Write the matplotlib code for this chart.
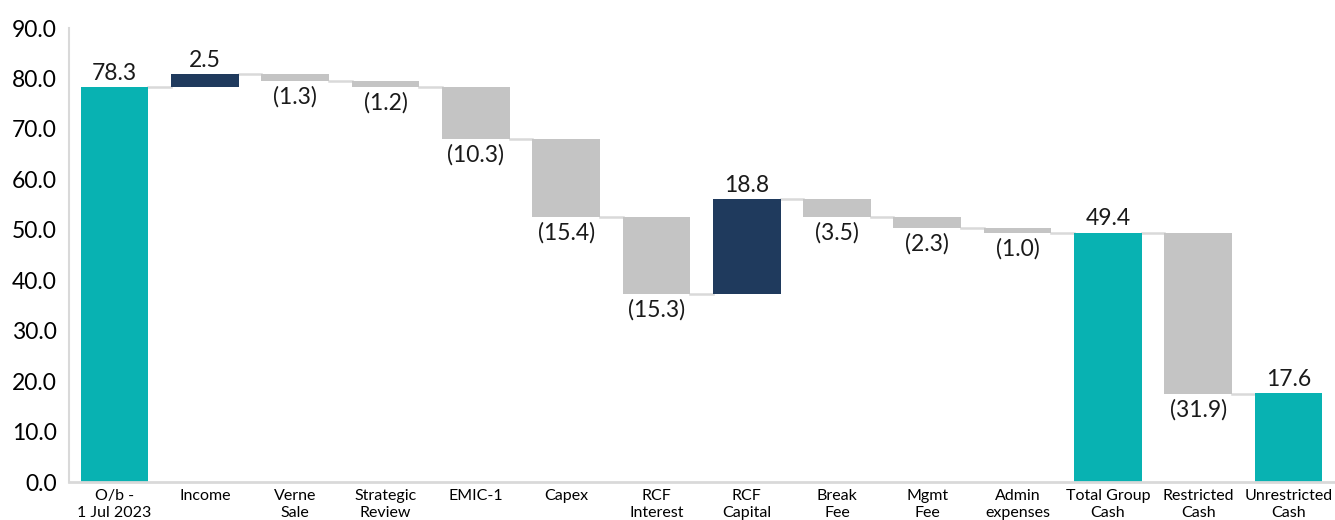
import matplotlib.pyplot as plt
import numpy as np

plt.rcParams['font.family'] = ['Lato', 'DejaVu Sans']

labels = ["O/b -\n1 Jul 2023", "Income", "Verne\nSale", "Strategic\nReview", "EMIC-1",
          "Capex", "RCF\nInterest", "RCF\nCapital", "Break\nFee", "Mgmt\nFee",
          "Admin\nexpenses", "Total Group\nCash", "Restricted\nCash", "Unrestricted\nCash"]
values = [78.3, 2.5, -1.3, -1.2, -10.3, -15.4, -15.3, 18.8, -3.5, -2.3, -1.0, 49.4, -31.9, 17.6]
is_total = [True, False, False, False, False, False, False, False, False, False, False, True, False, True]

TEAL = "#08B2B2"
NAVY = "#1F3A5D"
GREY = "#C4C4C4"
LINE = "#D9D9D9"

fig = plt.figure(figsize=(13.35, 5.2), dpi=100)
ax = fig.add_axes([0.052, 0.073, 0.947, 0.873])

x = np.arange(len(values))
w = 0.75
bottoms, tops = [], []
running = 0.0
for i, v in enumerate(values):
    if is_total[i]:
        b, t = 0.0, v
        running = v
    else:
        b = running if v > 0 else running + v
        t = running + v if v > 0 else running
        running = running + v
    bottoms.append(b)
    tops.append(t)

for i, v in enumerate(values):
    if is_total[i]:
        c = TEAL
    elif v > 0:
        c = NAVY
    else:
        c = GREY
    ax.bar(x[i], tops[i] - bottoms[i], bottom=bottoms[i], width=w, color=c, zorder=2)
    if v >= 0:
        ax.text(x[i], tops[i] + 0.7, f"{v:.1f}", ha="center", va="bottom", fontsize=16.5, color="#1a1a1a")
    else:
        ax.text(x[i], bottoms[i] - 1.0, f"({abs(v):.1f})", ha="center", va="top", fontsize=16.5, color="#1a1a1a")

# connectors
for i in range(len(values) - 1):
    if is_total[i] or values[i] > 0:
        level = tops[i]
    else:
        level = bottoms[i]
    ax.plot([x[i] + w / 2, x[i + 1] - w / 2], [level, level], color=LINE, lw=1.8, zorder=1)

ax.set_xlim(-0.5, len(values) - 0.5)
ax.set_ylim(0, 90)
ax.set_yticks(np.arange(0, 91, 10))
ax.set_yticklabels([f"{t:.1f}" for t in np.arange(0, 91, 10)], fontsize=16.5)
ax.set_xticks(x)
ax.set_xticklabels(labels, fontsize=11.5, linespacing=1.3)
ax.tick_params(length=0, pad=5)
ax.tick_params(axis="y", pad=9)
for s in ["top", "right"]:
    ax.spines[s].set_visible(False)
ax.spines["left"].set_color(LINE)
ax.spines["bottom"].set_color(LINE)
ax.spines["left"].set_linewidth(1.5)
ax.spines["bottom"].set_linewidth(2)

fig.savefig("out.png", dpi=100)
